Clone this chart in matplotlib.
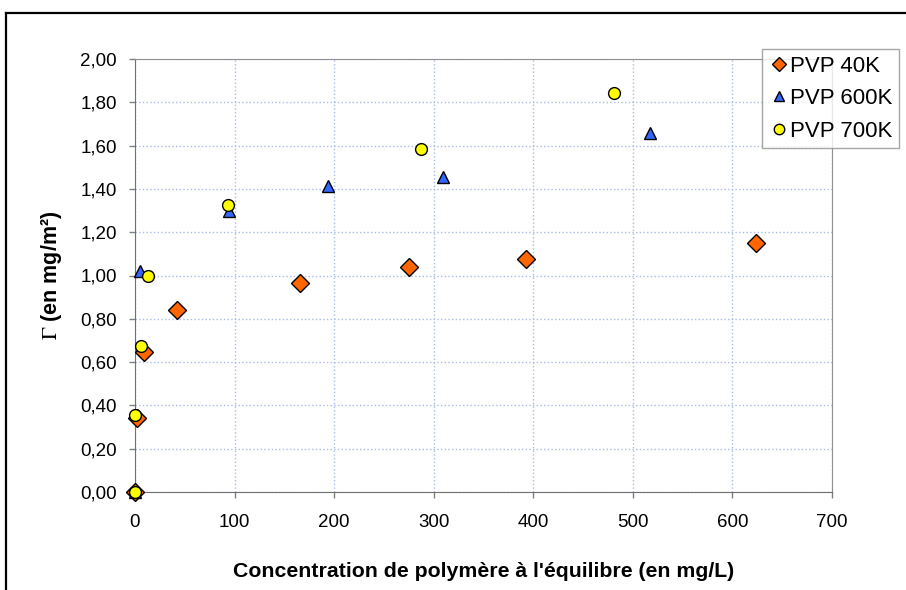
import matplotlib.pyplot as plt
from matplotlib.lines import Line2D
from matplotlib.ticker import FuncFormatter

plt.rcParams['font.family'] = ['Liberation Sans', 'DejaVu Sans']
plt.rcParams['mathtext.fontset'] = 'stix'

# PVP 40K
x_40k = [0, 2, 9, 42.6, 166, 275.6, 393, 624]
y_40k = [0.0, 0.34, 0.646, 0.84, 0.965, 1.038, 1.077, 1.149]
# PVP 600K
x_600k = [0, 5, 94.6, 194, 309.6, 517]
y_600k = [0.0, 1.02, 1.30, 1.415, 1.456, 1.656]
# PVP 700K
x_700k = [0, 0, 5.7, 12.7, 93.3, 287.7, 481]
y_700k = [0.0, 0.355, 0.674, 1.00, 1.326, 1.584, 1.842]

xticks = [0, 100, 200, 300, 400, 500, 600, 700]
yticks = [0, 0.2, 0.4, 0.6, 0.8, 1.0, 1.2, 1.4, 1.6, 1.8, 2.0]

fig = plt.figure(figsize=(9.06, 5.90), dpi=100)
ax = fig.add_axes([135/906, 1-492/590, (832-135)/906, (492-59)/590])

ax.plot(x_40k, y_40k, ls='none', marker='D', ms=9.5, mfc='#FF6600', mec='black', mew=1,
        label='PVP 40K', clip_on=False, zorder=3)
ax.plot(x_600k, y_600k, ls='none', marker='^', ms=8.5, mfc='#3366FF', mec='black', mew=1,
        label='PVP 600K', clip_on=False, zorder=4)
ax.plot(x_700k, y_700k, ls='none', marker='o', ms=8.5, mfc='#FFFF00', mec='black', mew=1,
        label='PVP 700K', clip_on=False, zorder=5)

ax.set_xlim(0, 700)
ax.set_ylim(0, 2.0)
ax.set_xticks(xticks)
ax.set_yticks(yticks)
ax.yaxis.set_major_formatter(FuncFormatter(lambda v, p: f'{v:.2f}'.replace('.', ',')))
ax.tick_params(direction='out', length=4, width=1, color='#808080', labelsize=13.5)
ax.tick_params(axis='x', pad=12)
ax.tick_params(axis='y', pad=9)
ax.grid(True, color='#a8bce8', linestyle=':', linewidth=1)
ax.set_axisbelow(True)
for s in ['left', 'bottom']:
    ax.spines[s].set_color('#707070')
for s in ['top', 'right']:
    ax.spines[s].set_color('#909090')

ax.set_xlabel("Concentration de polymère à l'équilibre (en mg/L)", fontsize=15.3,
              fontweight='bold', labelpad=22)
ax.set_ylabel(r'$\mathrm{\Gamma}$ (en mg/m²)', fontsize=15.5, fontweight='bold', labelpad=12)

leg = ax.legend(loc='upper left', bbox_to_anchor=(762/906, 1-49/590), bbox_transform=fig.transFigure,
                fontsize=16, frameon=True, fancybox=False, edgecolor='#909090',
                handletextpad=0.05, handlelength=0.9, borderpad=0.3, labelspacing=0.52,
                borderaxespad=0)
leg.get_frame().set_linewidth(1)
for h in leg.legend_handles:
    h.set_markersize(7.5)

# outer frame (left and top edges visible)
fig.add_artist(Line2D([6/906, 6/906], [0, 1-13/590], transform=fig.transFigure, color='black', lw=1.6))
fig.add_artist(Line2D([6/906, 1], [1-13/590, 1-13/590], transform=fig.transFigure, color='black', lw=1.6))

fig.savefig('out.png', dpi=100)
